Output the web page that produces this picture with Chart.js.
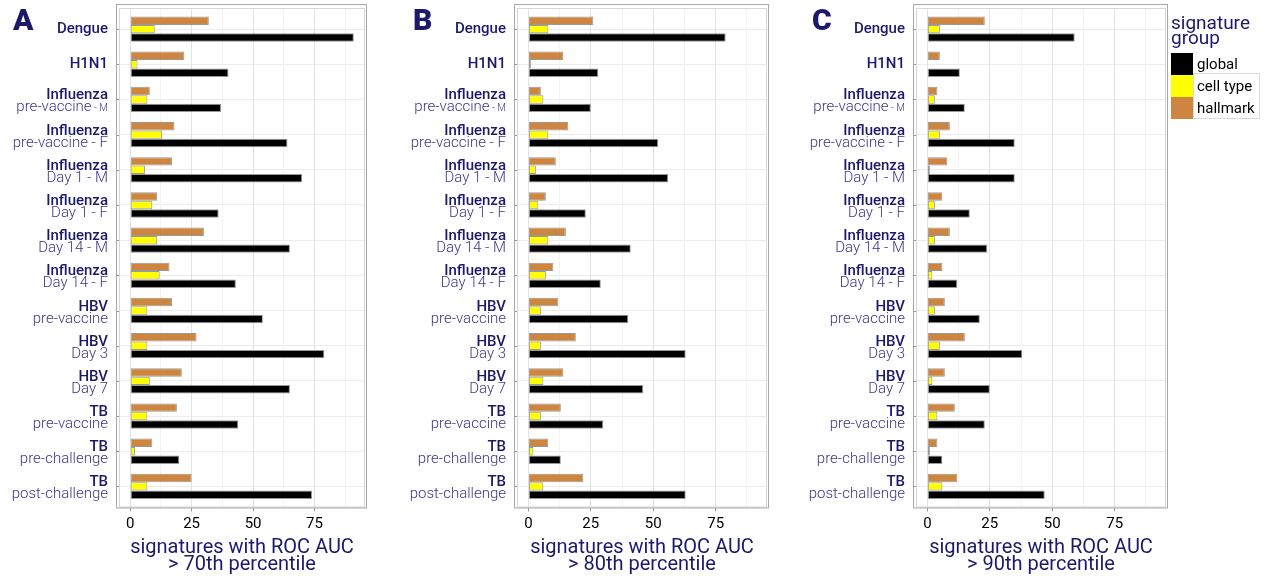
<!DOCTYPE html>
<html>
<head>
<meta charset="utf-8">
<script src="https://cdn.jsdelivr.net/npm/chart.js@4.4.1/dist/chart.umd.min.js"></script>
<style>
  html, body { margin: 0; padding: 0; background: #fff; }
  #wrap { position: relative; width: 1265px; height: 577px; overflow: hidden; }
  #wrap canvas { position: absolute; top: 0; }
</style>
</head>
<body>
<div id="wrap">
  <canvas id="panelA" width="380" height="577" style="left:0px"></canvas>
  <canvas id="panelB" width="390" height="577" style="left:390px"></canvas>
  <canvas id="panelC" width="475" height="577" style="left:790px"></canvas>
</div>
<script>
// Cohort labels: first line, lighter second line (with an optional small suffix)
const labelTop = ['Dengue', 'H1N1', 'Influenza', 'Influenza', 'Influenza', 'Influenza', 'Influenza', 'Influenza',
  'HBV', 'HBV', 'HBV', 'TB', 'TB', 'TB'];
const labelSub = ['', '', 'pre-vaccine', 'pre-vaccine - F', 'Day 1 - M', 'Day 1 - F', 'Day 14 - M', 'Day 14 - F',
  'pre-vaccine', 'Day 3', 'Day 7', 'pre-vaccine', 'pre-challenge', 'post-challenge'];
const labelSubSmall = ['', '', ' - M', '', '', '', '', '', '', '', '', '', '', ''];

// Number of signatures above each ROC AUC percentile, per signature group
const global70 = [91, 40, 37, 64, 70, 36, 65, 43, 54, 79, 65, 44, 20, 74];
const cell70 = [10, 3, 7, 13, 6, 9, 11, 12, 7, 7, 8, 7, 2, 7];
const hallmark70 = [32, 22, 8, 18, 17, 11, 30, 16, 17, 27, 21, 19, 9, 25];

const global80 = [79, 28, 25, 52, 56, 23, 41, 29, 40, 63, 46, 30, 13, 63];
const cell80 = [8, 1, 6, 8, 3, 4, 8, 7, 5, 5, 6, 5, 2, 6];
const hallmark80 = [26, 14, 5, 16, 11, 7, 15, 10, 12, 19, 14, 13, 8, 22];

const global90 = [59, 13, 15, 35, 35, 17, 24, 12, 21, 38, 25, 23, 6, 47];
const cell90 = [5, 0, 3, 5, 1, 3, 3, 2, 3, 5, 2, 4, 1, 6];
const hallmark90 = [23, 5, 4, 9, 8, 6, 9, 6, 7, 15, 7, 11, 4, 12];

const xTicks = [0, 12.5, 25, 37.5, 50, 62.5, 75, 87.5];
const groupNames = ['global', 'cell type', 'hallmark'];

const FONT = "Roboto, 'Liberation Sans', Arial, sans-serif";
const NAVY = '#1c196b';
const NAVY_LIGHT = '#3c3585';
const GROUP_COLORS = { 'global': '#000000', 'cell type': '#ffff00', 'hallmark': '#cd853f' };

// Panel frame, category labels, panel letter and (optionally) the legend
const panelDecor = {
  id: 'panelDecor',
  afterDraw(chart, args, opts) {
    const { ctx, chartArea: a } = chart;
    const y = chart.scales.y;
    ctx.save();
    ctx.lineWidth = 1;
    ctx.strokeStyle = '#d6d6d6';
    ctx.strokeRect(a.left + 0.5, a.top + 0.5, a.right - a.left - 1, a.bottom - a.top - 1);
    ctx.strokeStyle = '#a8a8a8';
    ctx.strokeRect(a.left - 2.5, a.top - 3.5, a.right - a.left + 4, a.bottom - a.top + 4);

    // small y ticks between the two frame lines
    ctx.strokeStyle = '#9a9a9a';
    labelTop.forEach((t, i) => {
      const py = Math.round(y.getPixelForValue(i)) + 0.5;
      ctx.beginPath();
      ctx.moveTo(a.left - 3, py);
      ctx.lineTo(a.left, py);
      ctx.stroke();
    });

    // category labels
    const xr = a.left - 11;
    ctx.textAlign = 'left';
    ctx.textBaseline = 'alphabetic';
    labelTop.forEach((t, i) => {
      const py = y.getPixelForValue(i);
      const two = labelSub[i] !== '';
      ctx.font = `500 15px ${FONT}`;
      ctx.fillStyle = NAVY;
      const w1 = ctx.measureText(t).width;
      ctx.fillText(t, xr - w1, two ? py : py + 3.5);
      if (two) {
        let wSmall = 0;
        if (labelSubSmall[i]) {
          ctx.font = `300 10px ${FONT}`;
          wSmall = ctx.measureText(labelSubSmall[i]).width;
        }
        ctx.font = `300 15px ${FONT}`;
        ctx.fillStyle = NAVY_LIGHT;
        const ws = ctx.measureText(labelSub[i]).width;
        ctx.fillText(labelSub[i], xr - ws - wSmall, py + 12);
        if (wSmall) {
          ctx.font = `300 10px ${FONT}`;
          ctx.fillText(labelSubSmall[i], xr - wSmall, py + 12);
        }
      }
    });

    // panel letter
    ctx.font = `900 30px ${FONT}`;
    ctx.fillStyle = NAVY;
    ctx.fillText(opts.letter, opts.letterX, 30);

    // legend
    if (opts.legend) {
      const lx = opts.legendX;
      ctx.font = `400 19px ${FONT}`;
      ctx.fillStyle = NAVY;
      ctx.fillText('signature', lx, 28.5);
      ctx.fillText('group', lx, 44);
      ctx.strokeStyle = '#d8d8d8';
      ctx.strokeRect(lx + 22.5, 73.5, 66, 45);
      ctx.font = `400 15px ${FONT}`;
      groupNames.forEach((g, k) => {
        const top = 53 + k * 22;
        ctx.fillStyle = GROUP_COLORS[g];
        ctx.fillRect(lx, top, 22, 22);
        ctx.fillStyle = '#000';
        ctx.fillText(g, lx + 26, top + 15.5);
      });
    }
    ctx.restore();
  }
};

function makePanel(id, cfg) {
  const series = (vals) => vals.map((v, i) => ({ x: v, y: i }));
  return new Chart(document.getElementById(id), {
    type: 'bar',
    data: {
      datasets: [
        { label: 'hallmark', data: series(cfg.hallmark), backgroundColor: GROUP_COLORS['hallmark'] },
        { label: 'cell type', data: series(cfg.cell), backgroundColor: GROUP_COLORS['cell type'] },
        { label: 'global', data: series(cfg.global), backgroundColor: GROUP_COLORS['global'] }
      ]
    },
    options: {
      indexAxis: 'y',
      responsive: false,
      animation: false,
      layout: { padding: { top: 8, right: cfg.padRight, left: 0, bottom: 0 } },
      datasets: {
        bar: {
          categoryPercentage: 0.72,
          barPercentage: 1,
          borderWidth: 1,
          borderColor: 'rgba(70,70,70,0.55)',
          borderSkipped: false
        }
      },
      plugins: {
        legend: { display: false },
        tooltip: { enabled: false },
        panelDecor: { letter: cfg.letter, letterX: cfg.letterX, legend: !!cfg.legend, legendX: cfg.legendX }
      },
      scales: {
        y: {
          type: 'linear',
          reverse: true,
          offset: false,
          min: -0.6,
          max: labelTop.length - 1 + 0.6,
          afterBuildTicks: (s) => { s.ticks = labelTop.map((t, i) => ({ value: i })); },
          ticks: { display: false },
          grid: { color: '#ececec', drawTicks: false, offset: false },
          border: { display: false },
          afterFit: (s) => { s.width = cfg.leftW; }
        },
        x: {
          type: 'linear',
          min: -4.55,
          max: 95.55,
          afterBuildTicks: (s) => { s.ticks = xTicks.map(v => ({ value: v })); },
          ticks: {
            autoSkip: false,
            maxRotation: 0,
            padding: 4,
            color: '#000',
            font: { family: FONT, size: 15 },
            callback: (v) => (v % 25 === 0 ? String(v) : '')
          },
          grid: {
            color: (c) => (c.tick && c.tick.value % 25 === 0 ? '#e3e3e3' : '#f3f3f3'),
            tickLength: 4,
            tickColor: (c) => (c.tick && c.tick.value % 25 === 0 ? '#999' : 'rgba(0,0,0,0)')
          },
          border: { display: false },
          title: {
            display: true,
            text: ['signatures with ROC AUC', cfg.pctLabel],
            color: NAVY,
            font: { family: FONT, size: 20, lineHeight: 0.85 },
            padding: { top: 0, bottom: 3.5 }
          },
          afterFit: (s) => { s.height = 69.5; }
        }
      }
    },
    plugins: [panelDecor]
  });
}

function drawAll() {
  makePanel('panelA', { letter: 'A', letterX: 13, leftW: 119, padRight: 15,
    global: global70, cell: cell70, hallmark: hallmark70, pctLabel: '> 70th percentile' });
  makePanel('panelB', { letter: 'B', letterX: 23, leftW: 127, padRight: 13,
    global: global80, cell: cell80, hallmark: hallmark80, pctLabel: '> 80th percentile' });
  makePanel('panelC', { letter: 'C', letterX: 22, leftW: 126, padRight: 99, legend: true, legendX: 381,
    global: global90, cell: cell90, hallmark: hallmark90, pctLabel: '> 90th percentile' });
}

Promise.all([
  document.fonts.load(`300 15px ${FONT}`),
  document.fonts.load(`500 15px ${FONT}`),
  document.fonts.load(`900 30px ${FONT}`),
  document.fonts.load(`400 20px ${FONT}`)
]).then(drawAll, drawAll);
</script>
</body>
</html>
